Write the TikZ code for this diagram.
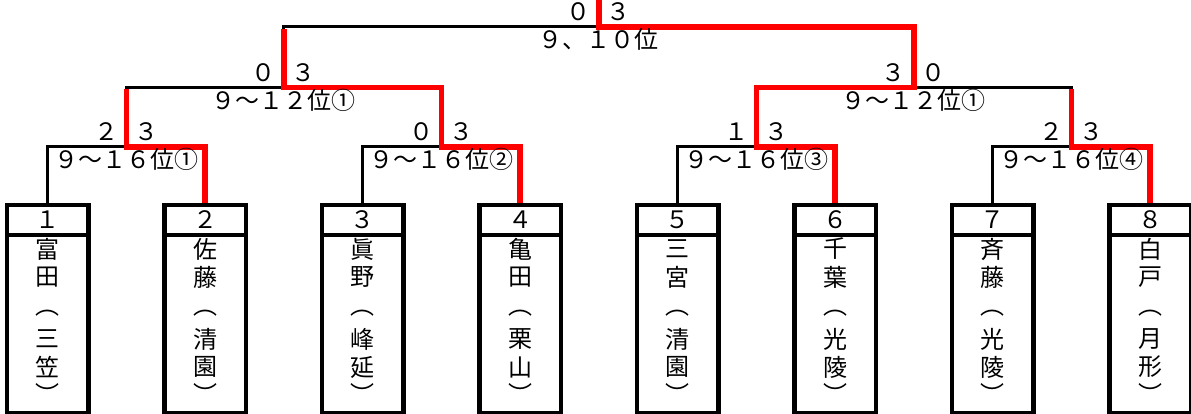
\documentclass[tikz,border=0pt]{standalone}
\usepackage{fontspec}
\setmainfont{Noto Sans CJK JP}
\tikzset{
  bk/.style={line width=3pt, black},
  rd/.style={line width=5.5pt, red, line join=miter},
  numcell/.style={draw, line width=3pt, minimum width=80pt, minimum height=28pt, inner sep=0pt, font=\fontsize{24}{24}\selectfont},
  namecell/.style={draw, line width=3pt, minimum width=80pt, minimum height=178pt, inner sep=0pt},
  vch/.style={inner sep=0pt, font=\fontsize{24}{24}\selectfont},
  sc/.style={inner sep=0pt, anchor=base, font=\fontsize{24}{24}\selectfont},
  lbl/.style={inner sep=0pt, anchor=base, font=\fontsize{24}{24}\selectfont},
}
\newcommand\plbox[7]{%
  \node[numcell] (num#1) at (#2,220) {#3};
  \node[namecell] (nm#1) at (#2,323) {};
  \node[vch] (k#1a) at (#2,249) {#4};
  \node[vch] (k#1b) at (#2,277) {#5};
  \node[vch] (k#1p) at (#2,313) {︵};
  \node[vch] (k#1c) at (#2,339) {#6};
  \node[vch] (k#1d) at (#2,367) {#7};
  \node[vch] (k#1q) at (#2,393) {︶};
}
\newcommand\matchlbl[5]{% #1 name, #2 coord, #3 left score, #4 right score, #5 label
  \path (#2) ++(-20,-6) node[sc] (#1l) {#3};
  \path (#2) ++(20,-6) node[sc] (#1r) {#4};
  \path (#2) ++(0,22) node[lbl] (#1t) {#5};
}
\begin{document}
\begin{tikzpicture}[x=1pt,y=-1pt]
\useasboundingbox (0,0) rectangle (1191,414);
% junction coordinates
\coordinate (a1) at (126.25,147);
\coordinate (a2) at (441.25,147);
\coordinate (a3) at (756.25,147);
\coordinate (a4) at (1071.25,147);
\coordinate (b1) at (283.75,87.5);
\coordinate (b2) at (913.75,87.5);
\coordinate (c1) at (598.75,27);
\coordinate (top) at (598.75,-3);
% boxes
\plbox{1}{47.5}{１}{富}{田}{三}{笠}
\plbox{2}{205}{２}{佐}{藤}{清}{園}
\plbox{3}{362.5}{３}{眞}{野}{峰}{延}
\plbox{4}{520}{４}{亀}{田}{栗}{山}
\plbox{5}{677.5}{５}{三}{宮}{清}{園}
\plbox{6}{835}{６}{千}{葉}{光}{陵}
\plbox{7}{992.5}{７}{斉}{藤}{光}{陵}
\plbox{8}{1150}{８}{白}{戸}{月}{形}
% black bracket
\draw[bk] (num1.north) |- (a1) -| (num2.north);
\draw[bk] (num3.north) |- (a2) -| (num4.north);
\draw[bk] (num5.north) |- (a3) -| (num6.north);
\draw[bk] (num7.north) |- (a4) -| (num8.north);
\draw[bk] (a1) |- (b1) -| (a2);
\draw[bk] (a3) |- (b2) -| (a4);
\draw[bk] (b1) |- (c1) -| (b2);
% red winner paths
\draw[rd] (num2.north) |- (a1) -- ([yshift=-2pt]a1 |- b1);
\draw[rd] (num4.north) |- (a2) |- (b1) -- ([yshift=-2pt]b1 |- c1);
\draw[rd] (num6.north) |- (a3) |- (b2) |- (c1) -- (top);
\draw[rd] (num8.north) |- (a4) -- ([yshift=-2pt]a4 |- b2);
% redraw box outlines on top
\foreach \i in {1,...,8} {
  \draw[line width=3pt] (num\i.north west) rectangle (nm\i.south east);
  \draw[line width=3pt] (num\i.south west) -- (num\i.south east);
}
% scores and labels
\matchlbl{m1}{a1}{２}{３}{９～１６位①}
\matchlbl{m2}{a2}{０}{３}{９～１６位②}
\matchlbl{m3}{a3}{１}{３}{９～１６位③}
\matchlbl{m4}{a4}{２}{３}{９～１６位④}
\matchlbl{m5}{b1}{０}{３}{９～１２位①}
\matchlbl{m6}{b2}{３}{０}{９～１２位①}
\matchlbl{m7}{c1}{０}{３}{９、１０位}
\end{tikzpicture}
\end{document}
